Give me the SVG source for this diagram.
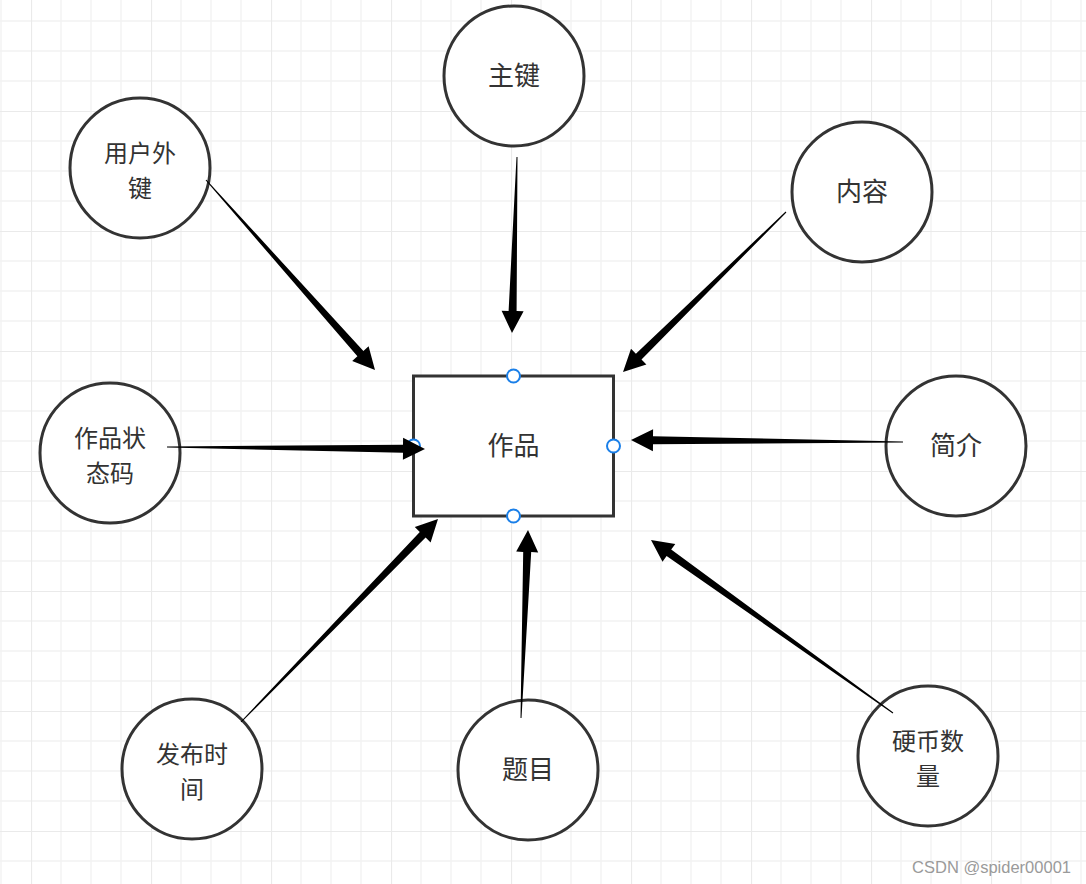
<svg xmlns="http://www.w3.org/2000/svg" width="1086" height="884" viewBox="0 0 1086 884">
<defs>
<pattern id="grid" patternUnits="userSpaceOnUse" x="31" y="-9" width="120" height="120">
<path d="M30 0V120M60 0V120M90 0V120M0 30H120M0 60H120M0 90H120" stroke="#f2f2f2" stroke-width="1.3" fill="none"/>
<path d="M0 0V120M0 0H120" stroke="#eaeaea" stroke-width="2.2" fill="none"/>
</pattern>
<style>
.node circle{fill:#fff;stroke:#333;stroke-width:3}
.node rect{fill:#fff;stroke:#333;stroke-width:3}
.lbl{font-family:"Noto Sans CJK SC","Noto Sans",sans-serif;font-size:26px;fill:#333;text-anchor:middle}
.lbl2{font-size:24px}
.node .handle{fill:#fff;stroke:#1a7fe8;stroke-width:2}
.arrow{fill:#000;stroke:none}
.wm{font-family:"Liberation Sans",Arial,sans-serif;font-size:16.5px;fill:#9a9a9a;text-anchor:end}
</style>
</defs>
<rect width="1086" height="884" fill="#fff"/>
<rect width="1086" height="884" fill="url(#grid)"/>

<g id="node-zuopin" class="node">
<rect x="413.5" y="376" width="200" height="140"/>
<text class="lbl" x="513.5" y="455">作品</text>
<circle class="handle" cx="513.5" cy="376" r="6.5"/>
<circle class="handle" cx="613.5" cy="446" r="6.5"/>
<circle class="handle" cx="513.5" cy="516" r="6.5"/>
<circle class="handle" cx="413.5" cy="446" r="6.5"/>
</g>
<g id="node-zhujian" class="node">
<circle cx="514" cy="76" r="70"/>
<text class="lbl" x="514" y="85">主键</text>
</g>
<g id="node-yonghuwaijian" class="node">
<circle cx="140" cy="168" r="70"/>
<text class="lbl lbl2" x="140" y="161.5">用户外<tspan x="140" dy="35">键</tspan></text>
</g>
<g id="node-neirong" class="node">
<circle cx="862" cy="192" r="70"/>
<text class="lbl" x="862" y="201">内容</text>
</g>
<g id="node-zhuangtaima" class="node">
<circle cx="110" cy="453" r="70"/>
<text class="lbl lbl2" x="110" y="446.5">作品状<tspan x="110" dy="35">态码</tspan></text>
</g>
<g id="node-jianjie" class="node">
<circle cx="956" cy="446" r="70"/>
<text class="lbl" x="956" y="455">简介</text>
</g>
<g id="node-fabushijian" class="node">
<circle cx="192" cy="769" r="70"/>
<text class="lbl lbl2" x="192" y="762.5">发布时<tspan x="192" dy="35">间</tspan></text>
</g>
<g id="node-timu" class="node">
<circle cx="528" cy="770" r="70"/>
<text class="lbl" x="528" y="779">题目</text>
</g>
<g id="node-yingbi" class="node">
<circle cx="928" cy="756" r="70"/>
<text class="lbl lbl2" x="928" y="749.5">硬币数<tspan x="928" dy="35">量</tspan></text>
</g>

<g id="connectors" class="arrow">
<polygon points="516.5,157 508.6,310.9 501.6,310.7 512,333 523.6,311.3 516.6,311.1 517.5,157"/>
<polygon points="205.6,180.3 357.4,356.3 352.2,360.9 375,370 368.6,346.3 363.4,350.9 206.4,179.7"/>
<polygon points="785.6,211.6 635.9,353.7 631,348.8 623,372 646.4,364.4 641.5,359.5 786.4,212.4"/>
<polygon points="167,447.5 403,452.8 402.9,459.8 425,449 403.1,437.8 403,444.8 167,446.5"/>
<polygon points="903,441.5 653,436.2 653.1,429.2 631,440 652.9,451.2 653,444.2 903,442.5"/>
<polygon points="241.4,722.3 425.6,537.6 430.6,542.5 438,519 414.8,527.1 419.8,532 240.6,721.7"/>
<polygon points="521.5,718 531.2,552.1 538.2,552.4 528,530 516.2,551.6 523.2,551.9 520.5,718"/>
<polygon points="893.3,712.6 671.2,549.5 675.3,543.9 651,540 662.5,561.7 666.6,556.1 892.7,713.4"/>
</g>

<text class="wm" x="1071" y="873">CSDN @spider00001</text>
</svg>
